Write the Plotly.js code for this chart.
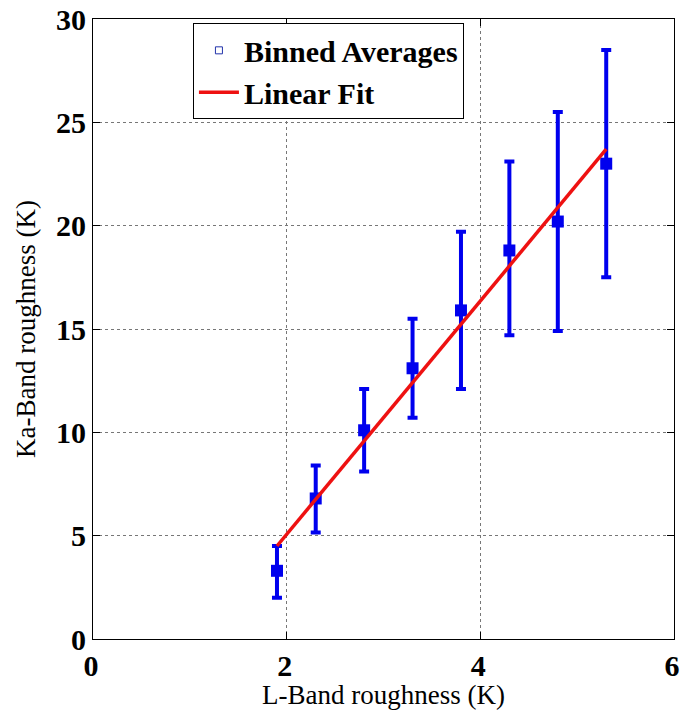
<!DOCTYPE html>
<html>
<head>
<meta charset="utf-8">
<script src="https://cdn.plot.ly/plotly-3.0.1.min.js"></script>
<style>html,body{margin:0;padding:0;background:#fff;}#chart{width:681px;height:710px;}</style>
</head>
<body>
<div id="chart"></div>
<script>
const lBand = [1.9, 2.3, 2.8, 3.3, 3.8, 4.3, 4.8, 5.3];
const kaMean = [3.3, 6.8, 10.1, 13.1, 15.9, 18.8, 20.2, 23.0];
const kaUpper = [4.5, 8.4, 12.1, 15.5, 19.7, 23.1, 25.5, 28.5];
const kaLower = [2.0, 5.15, 8.1, 10.7, 12.1, 14.7, 14.9, 17.5];
const fitX = [1.9, 5.3];
const fitY = [4.5, 23.7];
const xTicks = [0, 2, 4, 6];
const yTicks = [0, 5, 10, 15, 20, 25, 30];

const blue = '#0000ee';
const errPlus = kaUpper.map((u, i) => u - kaMean[i]);
const errMinus = kaMean.map((m, i) => m - kaLower[i]);

const serif = '"Liberation Serif", "Times New Roman", serif';
const tickFont = {family: serif, size: 30, color: '#000', weight: 'bold'};
const titleFont = {family: serif, size: 27, color: '#000'};

const traces = [
  {
    x: lBand, y: kaMean, type: 'scatter', mode: 'markers', showlegend: false,
    marker: {symbol: 'square', size: 12, color: blue},
    error_y: {type: 'data', symmetric: false, array: errPlus, arrayminus: errMinus,
              color: blue, thickness: 4, width: 5}
  },
  {
    x: [null], y: [null], type: 'scatter', mode: 'markers', name: 'Binned Averages',
    marker: {symbol: 'square-open', size: 7, color: '#2233aa', line: {width: 1}}
  },
  {
    x: fitX, y: fitY, type: 'scatter', mode: 'lines', name: 'Linear Fit',
    line: {color: '#ee1111', width: 3.5}
  }
];

const layout = {
  width: 681, height: 710,
  margin: {l: 93, r: 7, t: 19, b: 71},
  paper_bgcolor: '#fff', plot_bgcolor: '#fff',
  xaxis: {
    range: [0, 6], tickvals: xTicks, ticktext: xTicks.map(String),
    showgrid: true, gridcolor: '#777', griddash: 'dot', gridwidth: 1,
    zeroline: false, showline: true, linecolor: '#000', linewidth: 1, mirror: 'ticks',
    ticks: 'inside', ticklen: 7, tickcolor: '#000',
    tickfont: tickFont, ticklabeloverflow: 'allow', ticklabelshift: -2,
    title: {text: 'L-Band roughness (K)', font: titleFont, standoff: 2}
  },
  yaxis: {
    range: [0, 30], tickvals: yTicks, ticktext: yTicks.map(String),
    showgrid: true, gridcolor: '#777', griddash: 'dot', gridwidth: 1,
    zeroline: false, showline: true, linecolor: '#000', linewidth: 1, mirror: 'ticks',
    ticks: 'inside', ticklen: 7, tickcolor: '#000',
    tickfont: tickFont,
    title: {text: 'Ka-Band roughness (K)', font: titleFont, standoff: 12}
  },
  legend: {
    x: 0.172, y: 0.993, xanchor: 'left', yanchor: 'top',
    bgcolor: '#fff', bordercolor: '#000', borderwidth: 1,
    font: {family: serif, size: 30, color: '#000', weight: 'bold'},
    itemwidth: 40, tracegroupgap: 0
  }
};

Plotly.newPlot('chart', traces, layout, {displayModeBar: false, staticPlot: true});
</script>
</body>
</html>
